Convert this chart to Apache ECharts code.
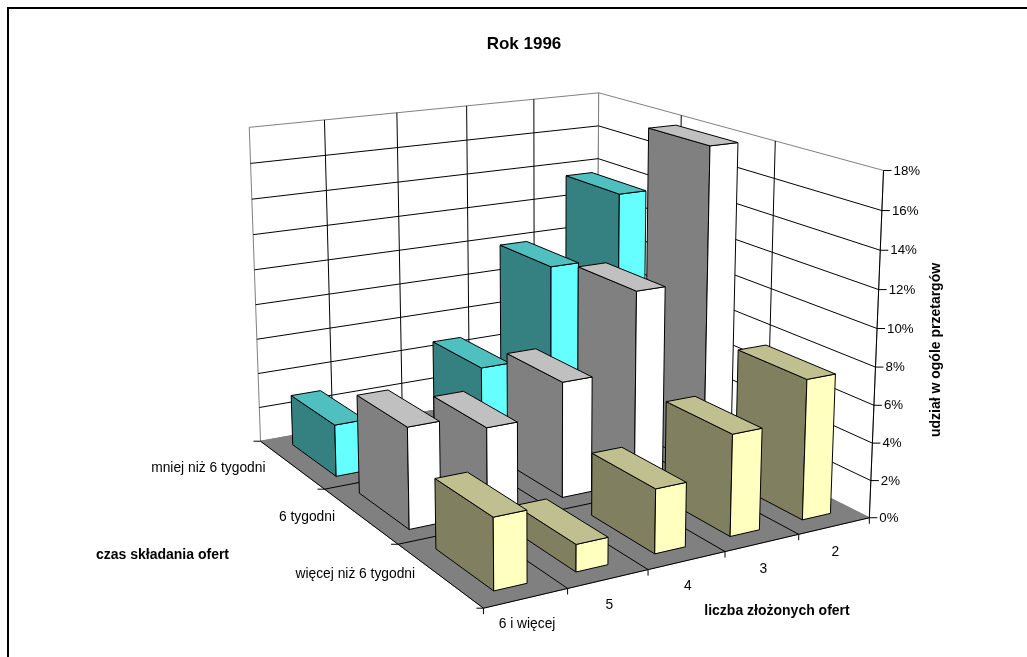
<!DOCTYPE html>
<html>
<head>
<meta charset="utf-8">
<style>html,body{margin:0;padding:0;background:#fff}#chart{width:1027px;height:657px}</style>
<script src="https://cdn.jsdelivr.net/npm/echarts@6/dist/echarts.min.js"></script>
</head>
<body>
<div id="chart"></div>
<script>
// Rows run from the back wall to the front, columns from the right wall to the left.
const offerCounts = ['2', '3', '4', '5', '6 i więcej'];
const submissionTimes = ['mniej niż 6 tygodni', '6 tygodni', 'więcej niż 6 tygodni'];
const shareUnder6Weeks = [13.55, 9.9, 4.7, 0, 2.9];
const shareAt6Weeks = [17.8, 10.55, 6.3, 4.6, 5.4];
const shareOver6Weeks = [7.45, 5.35, 3.35, 1.4, 3.65];
const valueTicks = [0, 2, 4, 6, 8, 10, 12, 14, 16, 18];
const rowShares = [shareUnder6Weeks, shareAt6Weeks, shareOver6Weeks];

const axisMax = valueTicks[valueTicks.length - 1];
const rowPalettes = [
  { side: '#358080', top: '#4FBFBF', end: '#66FFFF' },
  { side: '#808080', top: '#C0C0C0', end: '#FFFFFF' },
  { side: '#808060', top: '#BFBF90', end: '#FFFFC0' }
];
const barWidth = 0.4;
const barDepth = 0.667;

// Camera calibration: [column, row, value] of the plot box against its place on the page.
const boxFrame = [
  [0, 3, 0, 869.3, 520], [5, 3, 0, 484.3, 605.7], [5, 0, 0, 260.7, 443], [0, 0, 0, 597, 378],
  [0, 3, 18, 883, 169], [5, 0, 18, 248.7, 126], [0, 0, 18, 599, 93],
  [1, 3, 0, 798, 535], [2, 3, 0, 725, 552], [3, 3, 0, 648, 570], [4, 3, 0, 568, 588],
  [1, 0, 18, 534, 100], [2, 0, 18, 466.7, 106.7], [3, 0, 18, 396.7, 113], [4, 0, 18, 324.7, 120],
  [0, 1, 18, 681, 115.7], [0, 2, 18, 776, 141], [5, 1, 0, 324, 490], [5, 2, 0, 398, 544]
];

function solveLinear(a, b) {
  const n = b.length;
  for (let c = 0; c < n; c++) {
    let best = c;
    for (let r = c + 1; r < n; r++) if (Math.abs(a[r][c]) > Math.abs(a[best][c])) best = r;
    [a[c], a[best]] = [a[best], a[c]];
    [b[c], b[best]] = [b[best], b[c]];
    for (let r = c + 1; r < n; r++) {
      const f = a[r][c] / a[c][c];
      for (let k = c; k < n; k++) a[r][k] -= f * a[c][k];
      b[r] -= f * b[c];
    }
  }
  const x = new Array(n).fill(0);
  for (let r = n - 1; r >= 0; r--) {
    let s = b[r];
    for (let k = r + 1; k < n; k++) s -= a[r][k] * x[k];
    x[r] = s / a[r][r];
  }
  return x;
}

// Least-squares fit of the 3x4 perspective matrix.
function fitCamera(frame) {
  const rows = [], rhs = [];
  frame.forEach(([i, j, h, px, py]) => {
    const X = i / 5, Y = j / 3, Z = h / axisMax, x = px / 1000, y = py / 1000;
    rows.push([X, Y, Z, 1, 0, 0, 0, 0, -x * X, -x * Y, -x * Z]); rhs.push(x);
    rows.push([0, 0, 0, 0, X, Y, Z, 1, -y * X, -y * Y, -y * Z]); rhs.push(y);
  });
  const n = 11;
  const ata = Array.from({ length: n }, () => new Array(n).fill(0));
  const atb = new Array(n).fill(0);
  rows.forEach((r, k) => {
    for (let a = 0; a < n; a++) {
      atb[a] += r[a] * rhs[k];
      for (let b = 0; b < n; b++) ata[a][b] += r[a] * r[b];
    }
  });
  return solveLinear(ata, atb);
}
const cam = fitCamera(boxFrame);
function project(i, j, h) {
  const X = i / 5, Y = j / 3, Z = h / axisMax;
  const w = cam[8] * X + cam[9] * Y + cam[10] * Z + 1;
  return [
    1000 * (cam[0] * X + cam[1] * Y + cam[2] * Z + cam[3]) / w,
    1000 * (cam[4] * X + cam[5] * Y + cam[6] * Z + cam[7]) / w
  ];
}

function poly(points, fill) {
  return { type: 'polygon', shape: { points }, style: { fill, stroke: '#000', lineWidth: 1 } };
}
function line(a, b, stroke) {
  return { type: 'line', shape: { x1: a[0], y1: a[1], x2: b[0], y2: b[1] }, style: { stroke, lineWidth: 1 } };
}
function label(text, x, y, align, font) {
  return { type: 'text', x, y, style: { text, align, verticalAlign: 'middle', fill: '#000', font } };
}
const family = '"Liberation Sans", Arial, sans-serif';
const tickFont = '13.3px ' + family;
const categoryFont = '13.8px ' + family;
const titleFont = 'bold 14px ' + family;

function renderFrame() {
  const items = [];
  const backL = project(5, 0, 0), backR = project(0, 0, 0), frontR = project(0, 3, 0), frontL = project(5, 3, 0);
  const wall = { fill: '#fff', stroke: '#808080', lineWidth: 1 };
  items.push({ type: 'polygon', shape: { points: [backL, backR, project(0, 0, axisMax), project(5, 0, axisMax)] }, style: wall });
  items.push({ type: 'polygon', shape: { points: [backR, frontR, project(0, 3, axisMax), project(0, 0, axisMax)] }, style: wall });
  items.push({ type: 'polygon', shape: { points: [backL, backR, frontR, frontL] }, style: { fill: '#808080', stroke: '#808080', lineWidth: 1 } });

  valueTicks.slice(1, -1).forEach(h => {
    items.push(line(project(5, 0, h), project(0, 0, h), '#000'));
    items.push(line(project(0, 0, h), project(0, 3, h), '#000'));
  });
  offerCounts.forEach((_, i) => {
    if (i > 0) {
      items.push(line(project(i, 0, 0), project(i, 0, axisMax), '#000'));
      items.push(line(project(i, 0, 0), project(i, 3, 0), '#000'));
    }
  });
  submissionTimes.forEach((_, j) => {
    if (j > 0) {
      items.push(line(project(0, j, 0), project(0, j, axisMax), '#000'));
      items.push(line(project(0, j, 0), project(5, j, 0), '#000'));
    }
  });

  // Axis lines and ticks along the plot box.
  items.push(line(frontL, frontR, '#000'), line(backL, frontL, '#000'), line(frontR, project(0, 3, axisMax), '#000'));
  valueTicks.forEach(h => {
    const p = project(0, 3, h);
    items.push(line(p, [p[0] + 8, p[1]], '#000'));
    items.push(label(h + '%', p[0] + 10, p[1] + 0.5, 'left', tickFont));
  });
  for (let i = 0; i <= offerCounts.length; i++) {
    const p = project(i, 3, 0);
    items.push(line(p, [p[0], p[1] + 6], '#000'));
  }
  for (let j = 0; j <= submissionTimes.length; j++) {
    const p = project(5, j, 0);
    items.push(line(p, [p[0] - 7, p[1]], '#000'));
  }
  offerCounts.forEach((name, i) => {
    const p = project(i + 0.5, 3, 0);
    items.push(label(name, p[0] + 1, p[1] + 26, 'center', categoryFont));
  });
  submissionTimes.forEach((name, j) => {
    const p = project(5, j + 0.5, 0);
    items.push(label(name, p[0] - 26 + j, p[1] + 4 - 2.5 * j, 'right', categoryFont));
  });
  return { type: 'group', children: items };
}

const barData = [];
rowShares.forEach((shares, row) => {
  shares.forEach((share, col) => barData.push([col, row, share]));
});

function renderBar(params, api) {
  const col = api.value(0), row = api.value(1), share = api.value(2);
  const c = rowPalettes[row];
  const i0 = col + (1 - barWidth) / 2, i1 = i0 + barWidth;
  const j0 = row + (1 - barDepth) / 2, j1 = j0 + barDepth;
  const lowFront = project(i1, j1, 0), lowEnd = project(i0, j1, 0), lowBack = project(i1, j0, 0);
  const topFront = project(i1, j1, share), topEnd = project(i0, j1, share),
        topBack = project(i1, j0, share), topFar = project(i0, j0, share);
  return {
    type: 'group',
    children: [
      poly([lowBack, lowFront, topFront, topBack], c.side),
      poly([lowFront, lowEnd, topEnd, topFront], c.end),
      poly([topBack, topFront, topEnd, topFar], c.top)
    ]
  };
}

function textItem(text, x, y, font, rotation) {
  return { type: 'text', x, y, rotation: rotation || 0, style: { text, align: 'center', verticalAlign: 'middle', font, fill: '#000' } };
}

const chart = echarts.init(document.getElementById('chart'), null, { renderer: 'canvas' });
chart.setOption({
  animation: false,
  backgroundColor: '#fff',
  graphic: [
    { type: 'line', shape: { x1: 8, y1: 8, x2: 1027, y2: 8 }, style: { stroke: '#000', lineWidth: 2 } },
    { type: 'line', shape: { x1: 8, y1: 7, x2: 8, y2: 657 }, style: { stroke: '#000', lineWidth: 2 } },
    textItem('Rok 1996', 524, 44, 'bold 17px ' + family),
    textItem('czas składania ofert', 162.5, 555, titleFont),
    textItem('liczba złożonych ofert', 777, 611, titleFont),
    textItem('udział w ogóle przetargów', 936, 350, titleFont, Math.PI / 2)
  ],
  series: [
    { type: 'custom', coordinateSystem: 'none', silent: true, z: 1, data: [[0]], renderItem: renderFrame },
    { type: 'custom', coordinateSystem: 'none', silent: true, z: 2, data: barData, renderItem: renderBar }
  ]
});
</script>
</body>
</html>
